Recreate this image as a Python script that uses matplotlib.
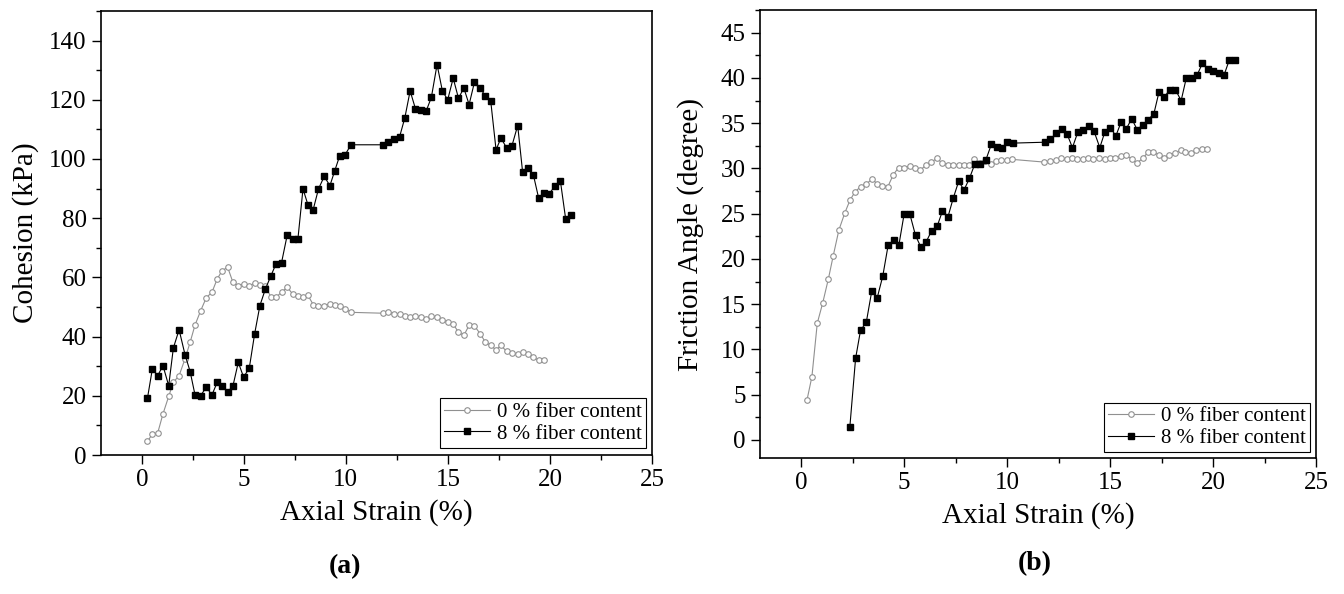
import matplotlib
matplotlib.use("Agg")
import matplotlib.pyplot as plt
from matplotlib.ticker import MultipleLocator

plt.rcParams["font.family"] = ["Liberation Serif", "DejaVu Serif"]

# (a) cohesion vs axial strain
strain_a0 = [0.28, 0.52, 0.78, 1.04, 1.32, 1.55, 1.83, 2.12, 2.37, 2.61,
             2.89, 3.16, 3.44, 3.70, 3.94, 4.21, 4.47, 4.73, 4.99, 5.27,
             5.53, 5.79, 6.06, 6.32, 6.58, 6.85, 7.13, 7.39, 7.65, 7.90,
             8.14, 8.40, 8.66, 8.94, 9.22, 9.46, 9.70, 9.97, 10.25, 11.81,
             12.06, 12.35, 12.63, 12.89, 13.15, 13.41, 13.66, 13.93, 14.19, 14.47,
             14.73, 14.99, 15.26, 15.52, 15.78, 16.04, 16.30, 16.58, 16.84, 17.10,
             17.36, 17.60, 17.88, 18.14, 18.42, 18.66, 18.93, 19.19, 19.45, 19.70]
cohesion_0 = [4.6, 7.1, 7.4, 13.9, 19.8, 24.6, 26.8, 32.5, 38.1, 43.9,
              48.8, 53.1, 55.0, 59.5, 62.3, 63.4, 58.3, 57.2, 57.8, 57.2,
              58.0, 57.5, 57.0, 53.5, 53.3, 55.0, 56.7, 54.4, 53.8, 53.3,
              54.0, 50.8, 50.5, 50.5, 51.1, 50.8, 50.2, 49.4, 48.2, 47.9,
              48.2, 47.8, 47.7, 46.8, 46.6, 47.1, 46.5, 46.0, 46.8, 46.6,
              45.5, 44.9, 44.2, 41.5, 40.4, 43.8, 43.6, 41.0, 38.1, 37.0,
              35.5, 37.0, 35.0, 34.5, 34.0, 34.8, 34.2, 33.0, 32.0, 32.0]

strain_a8 = [0.28, 0.52, 0.78, 1.04, 1.32, 1.55, 1.83, 2.12, 2.37, 2.61,
             2.89, 3.16, 3.44, 3.70, 3.94, 4.21, 4.47, 4.73, 4.99, 5.27,
             5.53, 5.79, 6.06, 6.32, 6.58, 6.85, 7.13, 7.39, 7.65, 7.90,
             8.14, 8.40, 8.66, 8.94, 9.22, 9.46, 9.70, 9.97, 10.25, 11.81,
             12.06, 12.35, 12.63, 12.89, 13.15, 13.41, 13.66, 13.93, 14.19, 14.47,
             14.73, 14.99, 15.26, 15.52, 15.78, 16.04, 16.30, 16.58, 16.84, 17.10,
             17.36, 17.60, 17.88, 18.14, 18.42, 18.66, 18.93, 19.19, 19.45, 19.70,
             19.97, 20.26, 20.51, 20.77, 21.03]
cohesion_8 = [19.2, 29.1, 26.8, 30.2, 23.4, 36.2, 42.3, 33.9, 28.2, 20.3,
              20.1, 22.9, 20.3, 24.6, 23.4, 21.2, 23.4, 31.3, 26.3, 29.4,
              40.9, 50.5, 56.1, 60.4, 64.6, 65.0, 74.4, 72.9, 72.9, 89.9,
              84.6, 82.9, 89.9, 94.1, 91.0, 96.1, 101.1, 101.5, 104.8, 104.8,
              105.7, 106.7, 107.4, 113.9, 123.0, 117.0, 116.7, 116.1, 120.8, 131.9,
              123.0, 120.0, 127.3, 120.5, 124.0, 118.4, 125.9, 124.0, 121.2, 119.5,
              103.1, 107.1, 103.7, 104.5, 111.3, 95.7, 97.0, 94.6, 86.7, 88.4,
              88.3, 91.0, 92.7, 79.8, 81.2]

# (b) friction angle vs axial strain
strain_b0 = [0.28, 0.52, 0.78, 1.04, 1.32, 1.55, 1.83, 2.12, 2.37, 2.61,
             2.89, 3.16, 3.44, 3.70, 3.94, 4.21, 4.47, 4.73, 4.99, 5.27,
             5.53, 5.79, 6.06, 6.32, 6.58, 6.85, 7.13, 7.39, 7.65, 7.90,
             8.14, 8.40, 8.66, 8.94, 9.22, 9.46, 9.70, 9.97, 10.25, 11.81,
             12.06, 12.35, 12.63, 12.89, 13.15, 13.41, 13.66, 13.93, 14.19, 14.47,
             14.73, 14.99, 15.26, 15.52, 15.78, 16.04, 16.30, 16.58, 16.84, 17.10,
             17.36, 17.60, 17.88, 18.14, 18.42, 18.66, 18.93, 19.19, 19.45, 19.70]
friction_0 = [4.4, 7.0, 12.9, 15.1, 17.8, 20.3, 23.2, 25.1, 26.5, 27.4,
              28.0, 28.3, 28.8, 28.3, 28.1, 28.0, 29.3, 30.1, 30.0, 30.3,
              30.0, 29.8, 30.4, 30.7, 31.1, 30.6, 30.4, 30.4, 30.4, 30.4,
              30.4, 31.0, 30.6, 30.8, 30.5, 30.8, 30.9, 30.9, 31.0, 30.7,
              30.8, 30.9, 31.1, 31.0, 31.1, 31.0, 31.0, 31.1, 31.0, 31.1,
              31.0, 31.1, 31.2, 31.4, 31.5, 31.0, 30.6, 31.1, 31.8, 31.8,
              31.5, 31.2, 31.5, 31.7, 32.0, 31.8, 31.7, 32.0, 32.2, 32.2]

strain_b8 = [2.36, 2.64, 2.88, 3.16, 3.43, 3.69, 3.96, 4.22, 4.50, 4.74,
             5.00, 5.27, 5.55, 5.81, 6.07, 6.33, 6.60, 6.86, 7.12, 7.38,
             7.65, 7.90, 8.17, 8.43, 8.70, 8.96, 9.24, 9.51, 9.76, 10.00,
             10.29, 11.86, 12.10, 12.38, 12.64, 12.91, 13.17, 13.43, 13.69, 13.96,
             14.22, 14.50, 14.74, 15.01, 15.28, 15.53, 15.79, 16.05, 16.31, 16.59,
             16.84, 17.12, 17.38, 17.64, 17.89, 18.17, 18.45, 18.70, 18.96, 19.22,
             19.48, 19.74, 20.00, 20.27, 20.53, 20.79, 21.08]
friction_8 = [1.4, 9.0, 12.1, 13.0, 16.5, 15.7, 18.1, 21.5, 22.1, 21.5,
              25.0, 25.0, 22.6, 21.3, 21.9, 23.1, 23.6, 25.3, 24.6, 26.7,
              28.6, 27.6, 28.9, 30.5, 30.5, 30.9, 32.7, 32.4, 32.3, 32.9,
              32.8, 32.9, 33.2, 33.9, 34.4, 33.8, 32.3, 34.0, 34.3, 34.7,
              34.1, 32.3, 34.0, 34.5, 33.6, 35.1, 34.4, 35.5, 34.3, 34.8,
              35.4, 36.0, 38.5, 37.9, 38.7, 38.7, 37.5, 40.0, 40.0, 40.3,
              41.6, 41.0, 40.8, 40.5, 40.3, 42.0, 42.0]

labels = ["0 % fiber content", "8 % fiber content"]

fig = plt.figure(figsize=(13.44, 5.94), dpi=100)
ax1 = fig.add_axes([0.0751, 0.234, 0.410, 0.7475])
ax2 = fig.add_axes([0.5655, 0.229, 0.4137, 0.754])

style0 = dict(color="#909090", lw=0.8, marker="o", ms=4, mfc="white",
              mec="#909090", mew=0.8)
style8 = dict(color="black", lw=0.8, marker="s", ms=4, mfc="black", mec="black")

ax1.plot(strain_a0, cohesion_0, label=labels[0], **style0)
ax1.plot(strain_a8, cohesion_8, label=labels[1], **style8)
ax2.plot(strain_b0, friction_0, label=labels[0], **style0)
ax2.plot(strain_b8, friction_8, label=labels[1], **style8)

for ax in (ax1, ax2):
    ax.set_xlim(-2, 25)
    ax.xaxis.set_major_locator(MultipleLocator(5))
    ax.xaxis.set_minor_locator(MultipleLocator(2.5))
    ax.tick_params(which="both", direction="out", top=False, right=False,
                   labelsize=18, width=1, pad=3.7)
    ax.tick_params(which="major", length=6.5)
    ax.tick_params(which="minor", length=3.5)
    for s in ax.spines.values():
        s.set_linewidth(1.2)
    ax.set_xlabel("Axial Strain (%)", fontsize=21, labelpad=5.8)

ax1.set_ylim(0, 150)
ax1.yaxis.set_major_locator(MultipleLocator(20))
ax1.yaxis.set_minor_locator(MultipleLocator(10))
ax1.set_ylabel("Cohesion (kPa)", fontsize=21)
ax1.yaxis.set_label_coords(-0.1125, 0.5)

ax2.set_ylim(-2, 47.5)
ax2.yaxis.set_major_locator(MultipleLocator(5))
ax2.yaxis.set_minor_locator(MultipleLocator(2.5))
ax2.set_ylabel("Friction Angle (degree)", fontsize=21)
ax2.yaxis.set_label_coords(-0.1007, 0.5)

for ax, anchor in ((ax1, (0.989, 0.016)), (ax2, (0.990, 0.013))):
    leg = ax.legend(loc="lower right", bbox_to_anchor=anchor, fontsize=15,
                    frameon=True, fancybox=False, framealpha=1,
                    edgecolor="black", borderaxespad=0, borderpad=0.2,
                    handlelength=2.2, handletextpad=0.35, labelspacing=0.1)
    leg.get_frame().set_linewidth(0.8)

fig.text(345 / 1344, 1 - 567 / 594, "(a)", fontsize=20, fontweight="bold",
         ha="center", va="center")
fig.text(1035 / 1344, 1 - 564 / 594, "(b)", fontsize=20, fontweight="bold",
         ha="center", va="center")

fig.savefig("out.png", dpi=100)
